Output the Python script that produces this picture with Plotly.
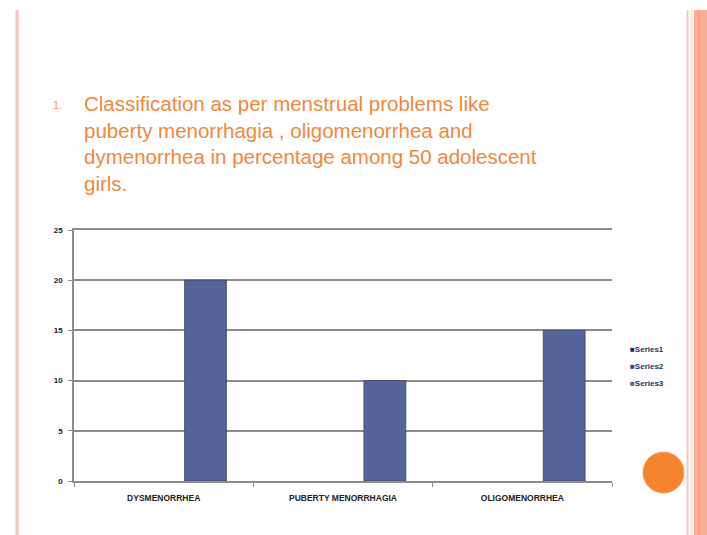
import plotly.graph_objects as go

categories = ["DYSMENORRHEA", "PUBERTY MENORRHAGIA", "OLIGOMENORRHEA"]
series_names = ["Series1", "Series2", "Series3"]
series1 = [None, None, None]
series2 = [None, None, None]
series3 = [20, 10, 15]
y_ticks = [0, 5, 10, 15, 20, 25]

title_lines = [
    "Classification as per menstrual problems like",
    "puberty menorrhagia , oligomenorrhea and",
    "dymenorrhea in percentage among 50 adolescent",
    "girls.",
]

W, H = 707, 535
L, R, T, B = 74, 612, 230, 481


def px(x):
    return (x - L) / (R - L)


def py(y):
    return (B - y) / (B - T)


FONT = "Liberation Sans, Arial, sans-serif"
colors = ["#1f2a63", "#34449a", "#5a6690"]

fig = go.Figure()
fig.add_trace(go.Bar(name=series_names[0], x=categories, y=series1, marker_color=colors[0], showlegend=False))
fig.add_trace(go.Bar(name=series_names[1], x=categories, y=series2, marker_color=colors[1], showlegend=False))
fig.add_trace(go.Bar(name=series_names[2], x=categories, y=series3, showlegend=False,
                     marker=dict(color="#56649a", line=dict(color="#3a4468", width=0.8))))

shapes = []
# left border line
shapes.append(dict(type="line", xref="paper", yref="paper", x0=px(17), x1=px(17), y0=py(10), y1=py(535),
                   line=dict(color="#f5c4bc", width=3), layer="below"))
# right border stripes
shapes.append(dict(type="line", xref="paper", yref="paper", x0=px(687.5), x1=px(687.5), y0=py(10), y1=py(535),
                   line=dict(color="#f7c6bd", width=2), layer="below"))
shapes.append(dict(type="line", xref="paper", yref="paper", x0=px(691.5), x1=px(691.5), y0=py(10), y1=py(535),
                   line=dict(color="#fde3d2", width=2), layer="below"))
shapes.append(dict(type="rect", xref="paper", yref="paper", x0=px(694), x1=px(708), y0=py(10), y1=py(536),
                   fillcolor="#f7b097", line=dict(width=0), layer="below"))
shapes.append(dict(type="line", xref="paper", yref="paper", x0=px(699), x1=px(699), y0=py(10), y1=py(535),
                   line=dict(color="#f9a27e", width=2), layer="below"))
# orange circle
shapes.append(dict(type="circle", xref="paper", yref="paper", x0=px(643), x1=px(684), y0=py(452), y1=py(493),
                   fillcolor="#f5842f", line=dict(color="#f7a060", width=1)))

annotations = [
    dict(xref="paper", yref="paper", x=px(82), y=py(90), xanchor="left", yanchor="top", align="left",
         text="<br>".join(title_lines), showarrow=False,
         font=dict(family=FONT, size=20.5, color="#f0883c")),
    dict(xref="paper", yref="paper", x=px(51), y=py(105), xanchor="left", yanchor="middle",
         text="1.", showarrow=False, font=dict(family=FONT, size=11, color="#f29a5c")),
]
# compact legend drawn as text entries
for i, (name, col) in enumerate(zip(series_names, colors)):
    annotations.append(dict(
        xref="paper", yref="paper", x=px(628), y=py(349 + 17 * i), xanchor="left", yanchor="middle",
        text=f"<span style='color:{col}'>■</span>{name}", showarrow=False,
        font=dict(family=FONT, size=8, color="#2a3060", weight="bold")))

fig.update_layout(
    width=W, height=H,
    margin=dict(l=L, r=W - R, t=T, b=H - B, pad=0),
    paper_bgcolor="white", plot_bgcolor="white",
    barmode="group", bargap=0.3, bargroupgap=0,
    showlegend=False,
    shapes=shapes, annotations=annotations,
    font=dict(family=FONT),
)
fig.update_yaxes(range=[0, 25], tickvals=y_ticks, showgrid=True, gridcolor="#8c8c8c", gridwidth=1.5,
                 showline=True, linecolor="#8c8c8c", linewidth=1.5, ticks="outside", ticklen=4,
                 tickcolor="#8c8c8c", tickfont=dict(family=FONT, size=8, color="#222222", weight="bold"),
                 ticklabelstandoff=4, zeroline=False)
fig.update_xaxes(showline=True, linecolor="#8c8c8c", linewidth=1.5, mirror=True, ticks="outside", ticklen=4,
                 tickson="boundaries", tickcolor="#8c8c8c", ticklabelstandoff=8,
                 tickfont=dict(family=FONT, size=8.5, color="#222222", weight="bold"))

fig.write_html("out.html")
